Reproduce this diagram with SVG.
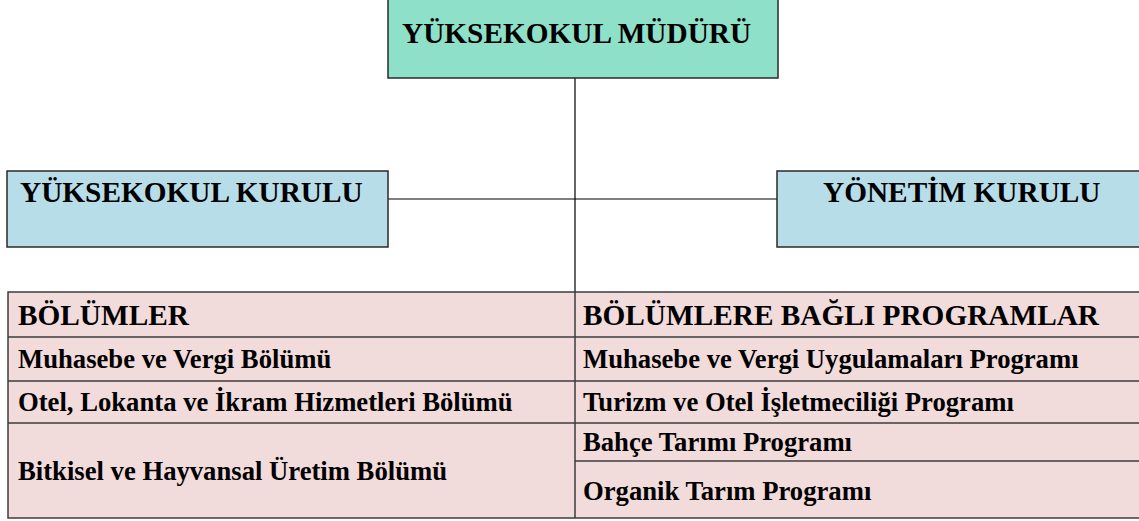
<svg xmlns="http://www.w3.org/2000/svg" width="1139" height="521" viewBox="0 0 1139 521">
<style>
  .box { stroke: #2a2a2a; stroke-width: 1.5; }
  .mint { fill: #8EE1C8; }
  .blue { fill: #B7DDE8; }
  .pink { fill: #F2DBDB; }
  .grid { stroke: #3c3c3c; stroke-width: 1.5; fill: none; }
  .conn { stroke: #000; stroke-width: 1.2; fill: none; }
  .big { font-family: "Liberation Serif", "Times New Roman", serif; font-weight: bold; font-size: 29.3px; fill: #000; }
  .row { font-family: "Liberation Serif", "Times New Roman", serif; font-weight: bold; font-size: 26.67px; fill: #000; }
</style>
<rect width="1139" height="521" fill="#fff"/>
<g id="connectors">
  <line class="conn" x1="575" y1="78" x2="575" y2="292"/>
  <line class="conn" x1="388" y1="199" x2="777" y2="199"/>
</g>
<g id="node-mudur">
  <rect class="box mint" x="388" y="-2" width="390" height="80"/>
  <text class="big" x="402" y="43">YÜKSEKOKUL MÜDÜRÜ</text>
</g>
<g id="node-yuksekokul-kurulu">
  <rect class="box blue" x="7" y="171" width="381" height="76"/>
  <text class="big" x="20" y="202">YÜKSEKOKUL KURULU</text>
</g>
<g id="node-yonetim-kurulu">
  <rect class="box blue" x="777" y="171" width="370" height="76"/>
  <text class="big" x="823" y="202">YÖNETİM KURULU</text>
</g>
<g id="node-table">
  <rect class="pink" x="8" y="292" width="1140" height="226"/>
  <rect class="grid" x="8" y="292" width="1140" height="226"/>
  <line class="grid" x1="575" y1="292" x2="575" y2="518"/>
  <line class="grid" x1="8" y1="337" x2="1139" y2="337"/>
  <line class="grid" x1="8" y1="381" x2="1139" y2="381"/>
  <line class="grid" x1="8" y1="423" x2="1139" y2="423"/>
  <line class="grid" x1="575" y1="461" x2="1139" y2="461"/>
  <text class="big" x="18" y="325">BÖLÜMLER</text>
  <text class="big" x="583" y="325">BÖLÜMLERE BAĞLI PROGRAMLAR</text>
  <text class="row" x="18" y="368">Muhasebe ve Vergi Bölümü</text>
  <text class="row" x="583" y="368">Muhasebe ve Vergi Uygulamaları Programı</text>
  <text class="row" x="18" y="411">Otel, Lokanta ve İkram Hizmetleri Bölümü</text>
  <text class="row" x="583" y="411">Turizm ve Otel İşletmeciliği Programı</text>
  <text class="row" x="18" y="480">Bitkisel ve Hayvansal Üretim Bölümü</text>
  <text class="row" x="583" y="451">Bahçe Tarımı Programı</text>
  <text class="row" x="583" y="500">Organik Tarım Programı</text>
</g>
</svg>
